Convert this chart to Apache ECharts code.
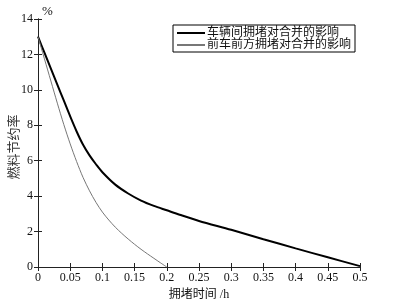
<!DOCTYPE html>
<html><head><meta charset="utf-8">
<script src="https://cdn.jsdelivr.net/npm/echarts@6/dist/echarts.min.js"></script>
<style>html,body{margin:0;padding:0;background:#fff}#c{width:406px;height:299px}</style>
</head><body><div id="c"></div>
<script>
var seriesNames = ['车辆间拥堵对合并的影响', '前车前方拥堵对合并的影响'];
var yName = '燃料节约率';
var xName = '拥堵时间 /h';
var unitLabel = '%';
var blackX = [0, 0.01, 0.02, 0.03, 0.04, 0.05, 0.06, 0.07, 0.08, 0.09, 0.1, 0.12, 0.14, 0.16, 0.18, 0.2, 0.22, 0.25, 0.3, 0.35, 0.4, 0.45, 0.5];
var blackY = [13, 12.1, 11.2, 10.3, 9.4, 8.5, 7.65, 6.9, 6.3, 5.8, 5.35, 4.65, 4.15, 3.75, 3.45, 3.2, 2.95, 2.6, 2.1, 1.57, 1.05, 0.55, 0.05];
var grayX = [0, 0.01, 0.02, 0.03, 0.04, 0.05, 0.06, 0.07, 0.08, 0.09, 0.1, 0.11, 0.12, 0.13, 0.14, 0.15, 0.16, 0.17, 0.18, 0.19, 0.2];
var grayY = [13, 11.75, 10.5, 9.25, 8.05, 6.95, 5.95, 5.05, 4.3, 3.65, 3.1, 2.65, 2.25, 1.9, 1.58, 1.28, 1.0, 0.74, 0.49, 0.24, 0];

function pairs(xs, ys) { return xs.map(function (x, i) { return [x, ys[i]]; }); }
var FONT = '"Liberation Serif", "Noto Sans CJK SC", serif';
var chart = echarts.init(document.getElementById('c'), null, {renderer: 'canvas'});
var axisLineStyle = {color: '#222', width: 1};
chart.setOption({
  animation: false,
  textStyle: {fontFamily: FONT},
  grid: {left: 38, right: 46, top: 19, bottom: 32, containLabel: false, outerBoundsMode: 'none'},
  legend: {
    left: 173, top: 25, orient: 'vertical', itemGap: 0,
    itemWidth: 28, itemHeight: 12,
    padding: [2, 4, 1, 3],
    borderColor: '#000', borderWidth: 1, backgroundColor: '#fff',
    itemStyle: {opacity: 0},
    textStyle: {fontSize: 12, color: '#111', fontFamily: FONT, lineHeight: 12, padding: [0, 0, 0, -3]},
    data: seriesNames
  },
  graphic: [
    {type: 'text', left: 42, top: 5, style: {text: unitLabel, font: '13px ' + FONT, fill: '#111'}},
    {type: 'text', x: 15, y: 147, rotation: Math.PI / 2,
     style: {text: yName, font: '13px ' + FONT, fill: '#333', align: 'center', verticalAlign: 'middle'}}
  ],
  xAxis: [{
    type: 'value', min: 0, max: 0.5, interval: 0.05,
    name: xName, nameLocation: 'middle', nameGap: 20,
    nameTextStyle: {fontSize: 12, color: '#111', fontFamily: FONT},
    axisLine: {lineStyle: axisLineStyle},
    axisTick: {inside: true, length: 4, lineStyle: axisLineStyle},
    axisLabel: {fontSize: 12, color: '#111', margin: 5, fontFamily: FONT},
    splitLine: {show: false}
  }, {
    type: 'value', position: 'top', min: 0, max: 0.5, interval: 0.05,
    axisLine: {show: true, lineStyle: axisLineStyle},
    axisTick: {inside: true, length: 4, lineStyle: axisLineStyle},
    axisLabel: {show: false}, splitLine: {show: false}
  }],
  yAxis: [{
    type: 'value', min: 0, max: 14, interval: 2,
    axisLine: {show: true, lineStyle: axisLineStyle},
    axisTick: {show: true, inside: true, length: 4, lineStyle: axisLineStyle},
    axisLabel: {fontSize: 12, color: '#111', margin: 5, fontFamily: FONT},
    splitLine: {show: false}
  }, {
    type: 'value', position: 'right', min: 0, max: 14, interval: 2,
    axisLine: {show: true, lineStyle: axisLineStyle},
    axisTick: {show: true, inside: true, length: 4, lineStyle: axisLineStyle},
    axisLabel: {show: false}, splitLine: {show: false}
  }],
  series: [{
    name: seriesNames[0], type: 'line', symbol: 'none', smooth: 0.3,
    lineStyle: {color: '#000', width: 2}, itemStyle: {color: '#000'},
    data: pairs(blackX, blackY)
  }, {
    name: seriesNames[1], type: 'line', symbol: 'none', smooth: 0.3,
    lineStyle: {color: '#777', width: 1}, itemStyle: {color: '#777'},
    data: pairs(grayX, grayY)
  }]
});
</script></body></html>
